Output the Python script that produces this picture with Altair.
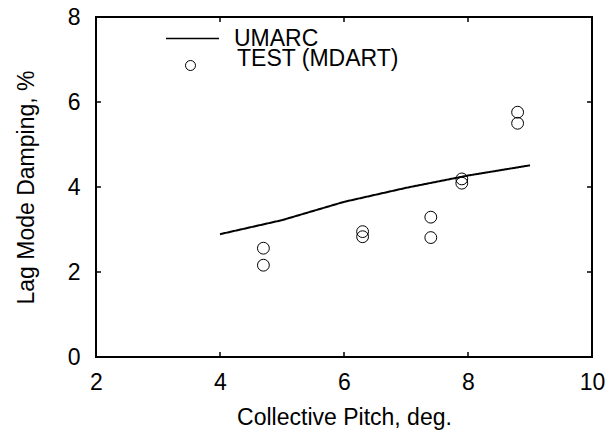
import altair as alt
import pandas as pd

# UMARC prediction of lag mode damping versus collective pitch
umarc_pitch = [4.0, 5.0, 6.0, 7.0, 8.0, 9.0]
umarc_damping = [2.89, 3.22, 3.65, 3.98, 4.27, 4.51]

# MDART test measurements (two runs per pitch setting)
test_pitch = [4.7, 4.7, 6.3, 6.3, 7.4, 7.4, 7.9, 7.9, 8.8, 8.8]
test_damping = [2.56, 2.16, 2.95, 2.83, 3.29, 2.81, 4.19, 4.09, 5.76, 5.50]

x_ticks = [2, 4, 6, 8, 10]
y_ticks = [0, 2, 4, 6, 8]
inner_x_ticks = [4, 6, 8]
inner_y_ticks = [2, 4, 6]

W, H = 496, 340
FONT = "Liberation Sans"
FS = 23

umarc = pd.DataFrame({"pitch": umarc_pitch, "damping": umarc_damping, "series": "UMARC"})
test = pd.DataFrame({"pitch": test_pitch, "damping": test_damping, "series": "TEST (MDART)"})
xt = pd.DataFrame({"pitch": inner_x_ticks})
yt = pd.DataFrame({"damping": inner_y_ticks})

xs = alt.Scale(domain=[2, 10], nice=False, zero=False)
ys = alt.Scale(domain=[0, 8], nice=False, zero=False)
xa = alt.Axis(values=x_ticks, ticks=False, domain=False, grid=False, labelFlush=False,
              labelPadding=14, title="Collective Pitch, deg.", titlePadding=12)
ya = alt.Axis(values=y_ticks, ticks=False, domain=False, grid=False, labelFlush=False,
              labelPadding=16, title="Lag Mode Damping, %", titlePadding=29)

X = alt.X("pitch:Q", scale=xs, axis=xa)
Y = alt.Y("damping:Q", scale=ys, axis=ya)

line = alt.Chart(umarc).mark_line(color="black", strokeWidth=2).encode(
    x=X, y=Y,
    strokeDash=alt.StrokeDash(
        "series:N",
        scale=alt.Scale(domain=["UMARC"], range=[[1, 0]]),
        legend=alt.Legend(title=None, orient="none", legendX=69, legendY=-6,
                          symbolType="stroke", symbolSize=2809, symbolStrokeWidth=1.5,
                          symbolStrokeColor="black", labelOffset=14, padding=0),
    ),
)

points = alt.Chart(test).mark_point(
    shape="circle", filled=False, color="black", strokeWidth=1, size=140, opacity=1
).encode(
    x=X, y=Y,
    shape=alt.Shape(
        "series:N",
        scale=alt.Scale(domain=["TEST (MDART)"], range=["circle"]),
        legend=alt.Legend(title=None, orient="none", legendX=83, legendY=37,
                          symbolSize=100, symbolStrokeColor="black", symbolStrokeWidth=1,
                          symbolFillColor="transparent", labelOffset=35,
                          labelBaseline="alphabetic", padding=0),
    ),
)

# inward tick marks on all four sides of the frame
tick_style = dict(color="black", strokeWidth=1.5)
bottom_ticks = alt.Chart(xt).mark_rule(**tick_style).encode(x=X, y=alt.value(H), y2=alt.value(H - 5))
top_ticks = alt.Chart(xt).mark_rule(**tick_style).encode(x=X, y=alt.value(0), y2=alt.value(5))
left_ticks = alt.Chart(yt).mark_rule(**tick_style).encode(y=Y, x=alt.value(0), x2=alt.value(5))
right_ticks = alt.Chart(yt).mark_rule(**tick_style).encode(y=Y, x=alt.value(W), x2=alt.value(W - 5))

chart = (
    alt.layer(bottom_ticks, top_ticks, left_ticks, right_ticks, line, points)
    .properties(width=W, height=H, autosize=alt.AutoSizeParams(type="none"),
                padding={"left": 96, "top": 17, "right": 21, "bottom": 82},
                background="white")
    .configure_view(stroke="black", strokeWidth=2)
    .configure_axis(labelFont=FONT, titleFont=FONT, labelFontSize=FS, titleFontSize=FS,
                    labelColor="black", titleColor="black", titleFontWeight="normal")
    .configure_legend(labelFont=FONT, labelFontSize=FS, labelColor="black", labelLimit=0)
)

chart.save("out.html", embed_options={"renderer": "svg", "actions": False})
